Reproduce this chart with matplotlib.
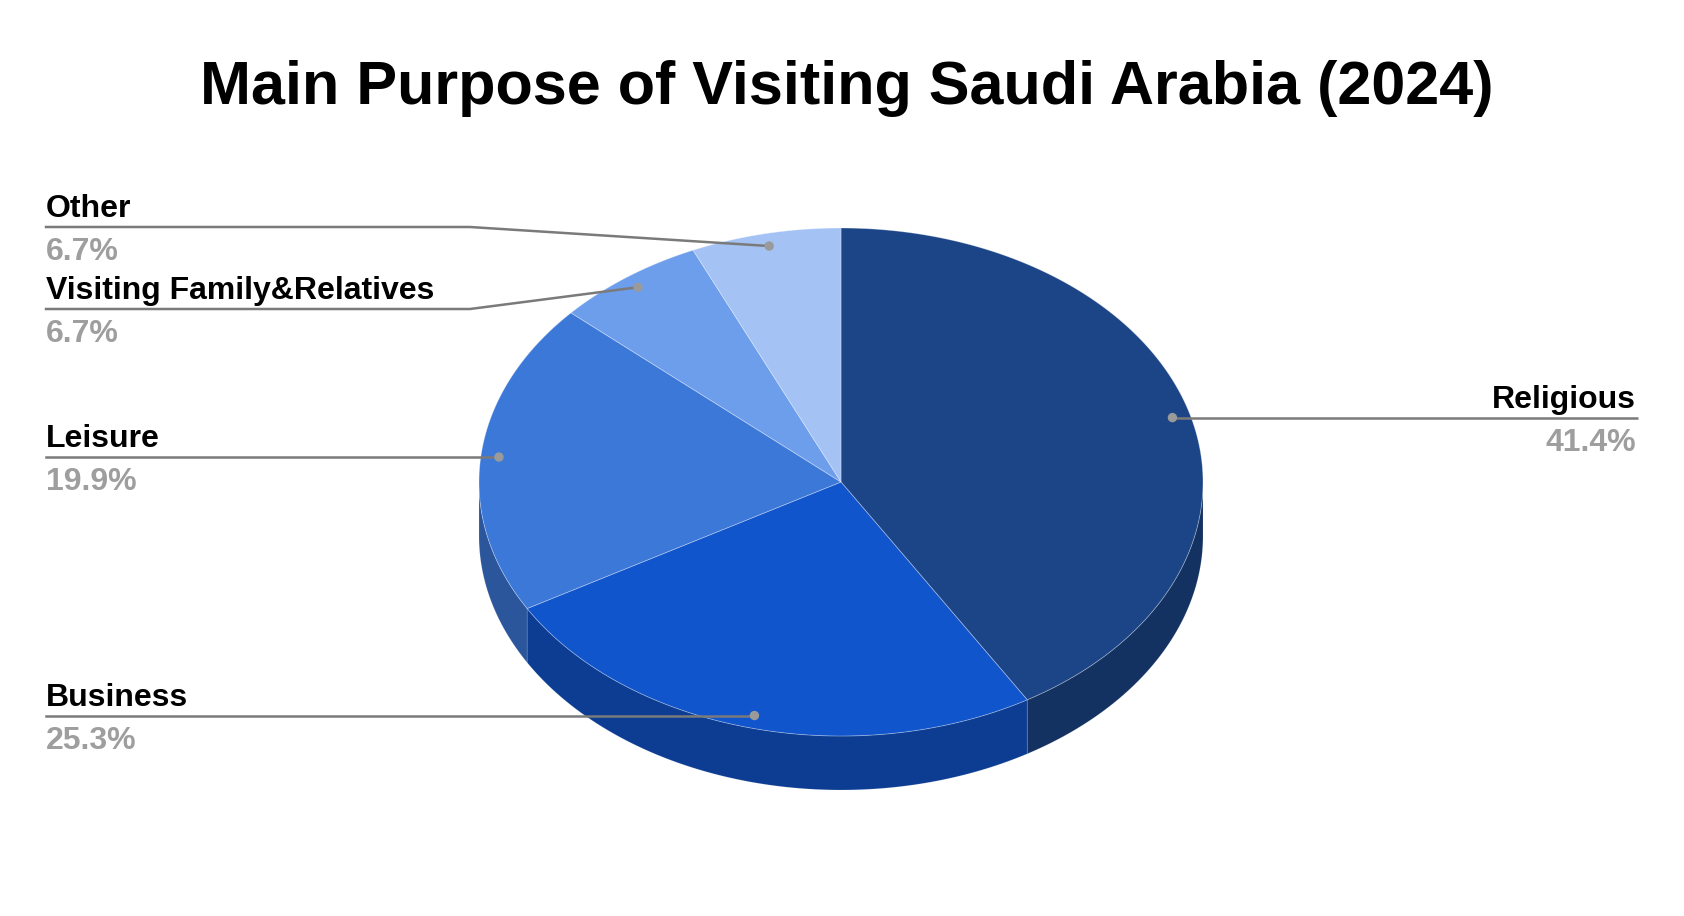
import numpy as np
import matplotlib.pyplot as plt
from matplotlib.patches import Polygon, Circle

# data
categories = ['Religious', 'Business', 'Leisure', 'Visiting Family&Relatives', 'Other']
shares = [41.4, 25.3, 19.9, 6.7, 6.7]
top_colors = ['#1c4587', '#1155cc', '#3c78d8', '#6d9eeb', '#a4c2f4']

W, H = 1684, 916
cx, cy = 841, 482
rx, ry = 362, 254
depth = 54


def darker(hexcol, f=0.7):
    h = hexcol.lstrip('#')
    rgb = [int(h[i:i + 2], 16) / 255 for i in (0, 2, 4)]
    return tuple(c * f for c in rgb)


def pt(theta, r=1.0, dy=0.0):
    return cx + r * rx * np.cos(theta), cy - r * ry * np.sin(theta) + dy


fig = plt.figure(figsize=(W / 100, H / 100), dpi=100)
ax = fig.add_axes([0, 0, 1, 1])
ax.set_xlim(0, W)
ax.set_ylim(H, 0)
ax.axis('off')

plt.rcParams['font.family'] = ['Liberation Sans', 'DejaVu Sans']

# slice angles, clockwise from 12 o'clock
fracs = np.array(shares) / sum(shares)
starts = np.pi / 2 - 2 * np.pi * np.concatenate([[0], np.cumsum(fracs)[:-1]])
ends = starts - 2 * np.pi * fracs

# side walls (only the front half is visible)
for a0, a1, col in zip(starts, ends, top_colors):
    lo, hi = a1, a0
    for k in (-2, -1, 0, 1):
        s = max(lo + k * np.pi * 2, -np.pi)
        e = min(hi + k * np.pi * 2, 0)
        if e > s:
            t = np.linspace(s, e, 100)
            xs, ys = pt(t)
            verts = list(zip(xs, ys)) + list(zip(xs[::-1], ys[::-1] + depth))
            ax.add_patch(Polygon(verts, closed=True, fc=darker(col, 0.72),
                                 ec=(1, 1, 1, 0.15), lw=0.6))

# top faces
for a0, a1, col in zip(starts, ends, top_colors):
    t = np.linspace(a0, a1, 200)
    xs, ys = pt(t)
    verts = [(cx, cy)] + list(zip(xs, ys))
    ax.add_patch(Polygon(verts, closed=True, fc=col, ec=(1, 1, 1, 0.35), lw=0.6))

# labels
line_col = '#7a7a7a'
left_x = 46
elbow_x = 470
label_y = {'Other': 227, 'Visiting Family&Relatives': 309}
mids = (starts + ends) / 2
for name, val, m in zip(categories, shares, mids):
    dx, dy = pt(m, 0.95)
    if np.cos(m) > 0:
        ly = dy
        ax.plot([dx, 1638], [ly, ly], color=line_col, lw=1.8, solid_capstyle='butt')
        ax.text(1636, ly - 10, name, ha='right', va='baseline', fontsize=23,
                fontweight='bold', color='black')
        ax.text(1636, ly + 10, f'{val}%', ha='right', va='top', fontsize=23,
                fontweight='bold', color='#9e9e9e')
    else:
        ly = label_y.get(name, dy)
        if name in label_y:
            ax.plot([left_x, elbow_x, dx], [ly, ly, dy], color=line_col, lw=1.8)
        else:
            ax.plot([left_x, dx], [ly, ly], color=line_col, lw=1.8)
        ax.text(left_x, ly - 10, name, ha='left', va='baseline', fontsize=23,
                fontweight='bold', color='black')
        ax.text(left_x, ly + 10, f'{val}%', ha='left', va='top', fontsize=23,
                fontweight='bold', color='#9e9e9e')
    ax.add_patch(Circle((dx, dy), 4, color='#9a9a9a', zorder=5))

ax.text(847, 104, 'Main Purpose of Visiting Saudi Arabia (2024)', ha='center',
        va='baseline', fontsize=44, fontweight='bold', color='black')

fig.savefig('out.png', dpi=100, facecolor='white')
